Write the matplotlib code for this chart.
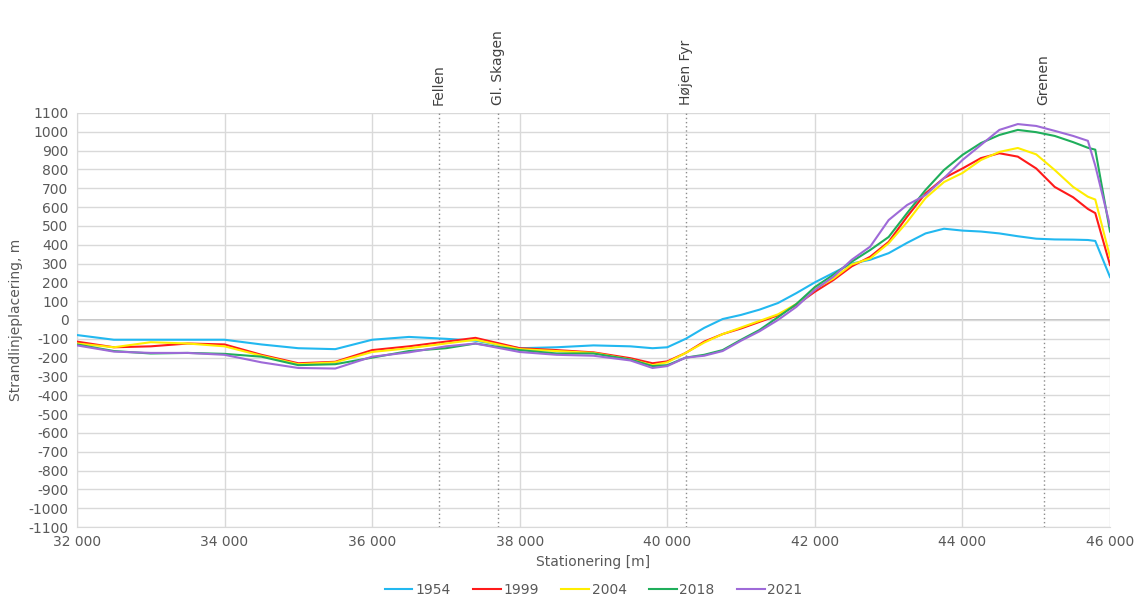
#!/usr/bin/env python3
"""Strandlinjeplacering langs kysten mod Grenen, 1954-2021"""

import matplotlib
matplotlib.use("Agg")
import matplotlib.pyplot as plt
from matplotlib.ticker import FuncFormatter, MultipleLocator

# ── Data ──────────────────────────────────────────────────────
STATIONS = [32000, 32500, 33000, 33500, 34000, 34500, 35000, 35500, 36000,
            36500, 37000, 37400, 38000, 38500, 39000, 39500, 39800, 40000,
            40250, 40500, 40750, 41000, 41250, 41500, 41750, 42000, 42250,
            42500, 42750, 43000, 43250, 43500, 43750, 44000, 44250, 44500,
            44750, 45000, 45250, 45500, 45700, 45800, 46000]

Y1954 = [-80, -105, -105, -105, -105, -130, -150, -155, -105,
         -90, -100, -110, -150, -145, -135, -140, -150, -145,
         -100, -42, 5, 27, 55, 90, 143, 200, 250,
         300, 320, 355, 410, 460, 485, 475, 470, 460,
         445, 432, 428, 427, 425, 420, 228]

Y1999 = [-115, -145, -140, -125, -130, -185, -230, -222, -160,
         -140, -115, -95, -150, -160, -172, -203, -230, -220,
         -175, -115, -75, -45, -10, 25, 80, 150, 212,
         285, 336, 415, 549, 673, 754, 805, 860, 886,
         868, 805, 707, 652, 590, 568, 292]

Y2004 = [-125, -145, -118, -125, -140, -190, -235, -225, -170,
         -150, -125, -105, -155, -165, -175, -210, -240, -225,
         -175, -120, -75, -40, -5, 30, 85, 165, 220,
         295, 327, 408, 520, 648, 733, 781, 850, 893,
         914, 880, 797, 707, 655, 640, 335]

Y2018 = [-130, -165, -178, -175, -180, -195, -240, -235, -200,
         -165, -150, -125, -160, -178, -178, -210, -245, -240,
         -200, -185, -160, -105, -53, 15, 85, 175, 240,
         310, 372, 441, 568, 691, 797, 877, 940, 983,
         1010, 998, 978, 945, 915, 905, 470]

Y2021 = [-135, -168, -175, -175, -185, -225, -255, -258, -195,
         -172, -140, -125, -170, -185, -190, -215, -255, -245,
         -200, -190, -165, -110, -60, 0, 70, 160, 230,
         320, 390, 531, 611, 664, 754, 850, 930, 1010,
         1041, 1031, 1005, 978, 952, 820, 500]

SERIES = [("1954", Y1954, "#22b8f0"),
          ("1999", Y1999, "#ff1a1a"),
          ("2004", Y2004, "#ffee00"),
          ("2018", Y2018, "#1fae5b"),
          ("2021", Y2021, "#9e6ad8")]

PLACES = ["Fellen", "Gl. Skagen", "Højen Fyr", "Grenen"]
PLACE_X = [36900, 37700, 40250, 45100]

TXT = "#595959"

# ── Figure ────────────────────────────────────────────────────
fig = plt.figure(figsize=(11.35, 5.99), dpi=100)
ax = fig.add_axes([0.0678, 0.1202, 0.9102, 0.6912])

for label, ys, col in SERIES:
    ax.plot(STATIONS, ys, color=col, linewidth=1.5, label=label, zorder=3)

ax.set_xlim(32000, 46000)
ax.set_ylim(-1100, 1100)
ax.xaxis.set_major_locator(MultipleLocator(2000))
ax.yaxis.set_major_locator(MultipleLocator(100))
ax.xaxis.set_major_formatter(FuncFormatter(lambda v, p: f"{v:,.0f}".replace(",", " ")))
ax.yaxis.set_major_formatter(FuncFormatter(lambda v, p: f"{v:.0f}"))

ax.grid(True, color="#d9d9d9", linewidth=1.0, zorder=0)
ax.axhline(0, color="#bfbfbf", linewidth=1.3, zorder=1)
for s in ["top", "right"]:
    ax.spines[s].set_visible(False)
for s in ["left", "bottom"]:
    ax.spines[s].set_color("#d9d9d9")
ax.tick_params(length=0, colors=TXT, labelsize=10, pad=6)

# steder langs kysten
for name, xp in zip(PLACES, PLACE_X):
    ax.axvline(xp, color="#8c8c8c", linestyle=(0, (1, 2)), linewidth=1.0, zorder=2)
    ax.text(xp, 1140, name, rotation=90, ha="center", va="bottom",
            fontsize=10, color="#404040")

ax.set_xlabel("Stationering [m]", color=TXT, fontsize=10, labelpad=4)
ax.set_ylabel("Strandlinjeplacering, m", color=TXT, fontsize=10, labelpad=4)

fig.legend(loc="lower center", ncol=5, frameon=False, fontsize=10,
           handlelength=2.0, handletextpad=0.2, columnspacing=1.6,
           bbox_to_anchor=(0.523, -0.018), labelcolor=TXT)

fig.savefig("out.png", dpi=100, facecolor="white")
